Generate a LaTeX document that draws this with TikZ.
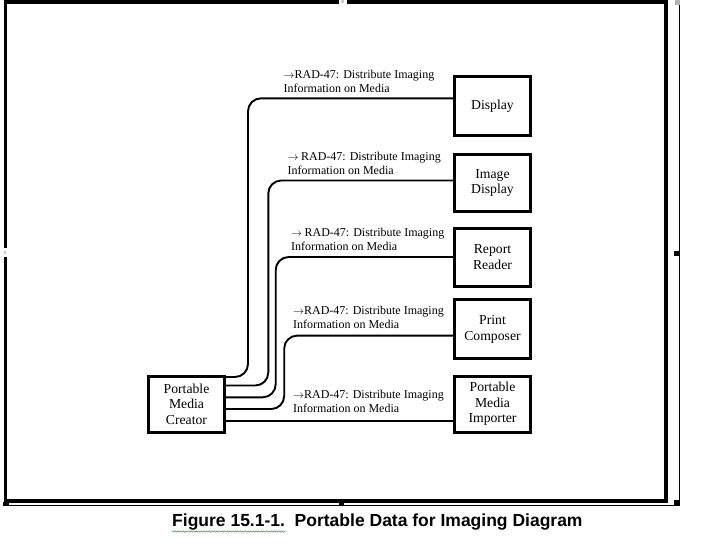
\documentclass[tikz,border=0pt]{standalone}
\usepackage{fontspec}
\setmainfont{Liberation Serif}
\newfontfamily\capfont{Liberation Sans}
\usetikzlibrary{decorations.pathmorphing}
\newcommand\myarr{{\fontsize{10.5}{12}\selectfont$\rightarrow$}}
\newcommand\lbltext[1]{\begin{tabular}[t]{@{}l@{}}#1RAD-47: Distribute Imaging\\Information on Media\end{tabular}}
\definecolor{spellgreen}{rgb}{0.25,0.7,0.25}
\begin{document}
\begin{tikzpicture}[x=1pt,y=-1pt,
  box/.style={draw, line width=3pt, minimum width=76pt, inner sep=0pt, align=center,
              font=\fontsize{13.7}{15.5}\selectfont},
  conn/.style={line width=1.9pt, rounded corners=13pt},
  lbl/.style={anchor=base west, inner sep=0pt, font=\fontsize{12}{14}\selectfont},
  frame/.style={line width=3.6pt},
  handle/.style={fill=black},
]
\useasboundingbox (0,0) rectangle (710,546);
\fill[white] (0,0) rectangle (710,546);
% outer frame
\draw[frame] (5.5,2) rectangle (666,501);
\draw[line width=1pt] (679,0) -- (679,505.5) -- (7,505.5);
% selection handles
\fill[white] (339,-1) rectangle (347,4.5);
\fill[gray!40] (341,0) rectangle (344,3);
\fill[white] (3,248) rectangle (8,257);
\fill[gray!40] (4,251) rectangle (6,254);
\fill[handle] (674,251) rectangle (679,256);
\fill[handle] (674,500) rectangle (679.5,505.7);
\fill[handle] (3,502) rectangle (9,505.7);
\fill[handle] (339,500) rectangle (344,505);
\fill[gray!60] (675,0) rectangle (679.5,5);
% boxes
\node[box, minimum height=59pt] (disp) at (492.5,106) {Display};
\node[box, minimum height=57pt] (imgd) at (492.5,183) {Image\\Display};
\node[box, minimum height=58pt] (rep) at (492.5,257) {Report\\Reader};
\node[box, minimum height=59pt] (prc) at (492.5,329.4) {Print\\Composer};
\node[box, minimum height=56pt] (imp) at (492.5,404) {Portable\\Media\\Importer};
\node[box, minimum height=56pt] (cre) at (186.5,404) {Portable\\Media\\Creator};
% connectors
\draw[conn] (cre.east |- 0,377) -- (248,377) -- (248,98.3) -- (disp.west |- 0,98.3);
\draw[conn] (cre.east |- 0,385.5) -- (268.3,385.5) -- (268.3,180.5) -- (imgd.west |- 0,180.5);
\draw[conn] (cre.east |- 0,397.3) -- (275.7,397.3) -- (275.7,257) -- (rep.west |- 0,257);
\draw[conn] (cre.east |- 0,409) -- (284.2,409) -- (284.2,335.6) -- (prc.west |- 0,335.6);
\draw[conn] (cre.east |- 0,420.6) -- (imp.west |- 0,420.6);
% labels
\node[lbl] (l1) at (283.5,78) {\lbltext{\myarr}};
\node[lbl] (l2) at (287.5,160) {\lbltext{\myarr\hspace{2.5pt}}};
\node[lbl] (l3) at (291,236.5) {\lbltext{\myarr\hspace{2.5pt}}};
\node[lbl] (l4) at (293,314) {\lbltext{\myarr}};
\node[lbl] (l5) at (293,398) {\lbltext{\myarr}};
% caption
\node[anchor=base west, inner sep=0pt, font=\capfont\bfseries\fontsize{17.5}{20}\selectfont] (cap)
  at (172,526.7) {Figure 15.1-1.\ \ Portable Data for Imaging Diagram};
\draw[spellgreen, line width=0.6pt, decorate, decoration={snake, amplitude=0.7pt, segment length=2.6pt}]
  (cap.base west |- 0,531.5) -- (285,531.5);
\end{tikzpicture}
\end{document}
